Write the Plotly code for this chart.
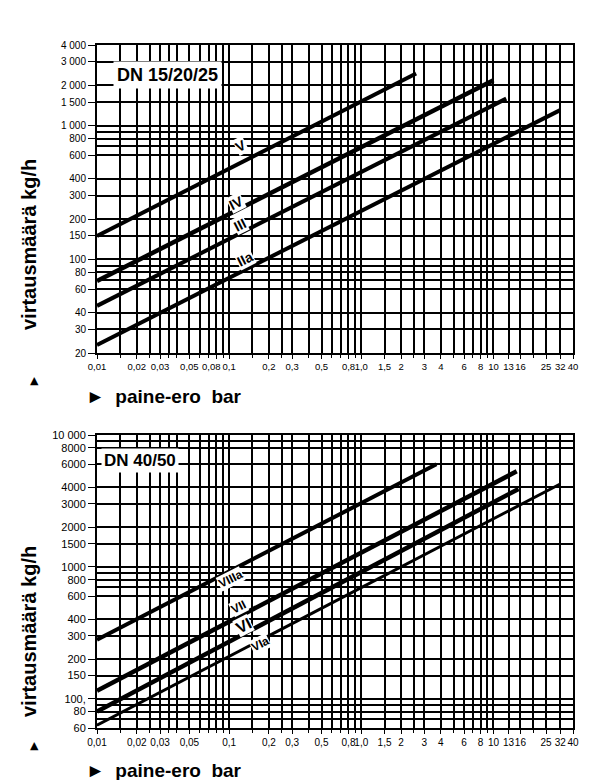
import math
import plotly.graph_objects as go
from plotly.subplots import make_subplots

# ---------------- data ----------------
# top chart DN 15/20/25
top_names = ["V", "IV", "III", "IIa"]
top_dp = [[0.01, 2.6], [0.01, 10.0], [0.01, 12.5], [0.01, 32.0]]
top_flow = [[150, 2450], [69, 2180], [45, 1590], [23, 1305]]
top_width = [4, 4.5, 4, 4]
top_label_x = [0.122, 0.112, 0.12, 0.132]
top_label_y = [700, 266, 182, 101]

# bottom chart DN 40/50
bot_names = ["VIIIa", "VII", "VI", "VIa"]
bot_dp = [[0.01, 3.7], [0.01, 15.0], [0.01, 15.5], [0.01, 32.0]]
bot_flow = [[280, 6000], [115, 5300], [80, 3900], [63, 4250]]
bot_width = [4, 4.5, 4.5, 3]
bot_label_x = [0.102, 0.118, 0.129, 0.172]
bot_label_y = [815, 500, 360, 262]
bot_label_size = [12, 12, 16, 12]

# ticks
top_xticks = [0.01, 0.02, 0.03, 0.05, 0.08, 0.1, 0.2, 0.3, 0.5, 0.8, 1.0, 1.5, 2, 3, 4, 6, 8, 10, 13, 16, 25, 32, 40]
top_xtext = ["0,01", "0,02", "0,03", "0,05", "0,08", "0,1", "0,2", "0,3", "0,5", "0,8", "1,0", "1,5", "2", "3", "4", "6", "8", "10", "13", "16", "25", "32", "40"]
bot_xticks = [0.01, 0.02, 0.03, 0.05, 0.1, 0.2, 0.3, 0.5, 0.8, 1.0, 1.5, 2, 3, 4, 6, 8, 10, 13, 16, 25, 32, 40]
bot_xtext = ["0,01", "0,02", "0,03", "0,05", "0,1", "0,2", "0,3", "0,5", "0,8", "1,0", "1,5", "2", "3", "4", "6", "8", "10", "13", "16", "25", "32", "40"]
top_xminor = [0.015, 0.025, 0.035, 0.04, 0.06, 0.07, 0.09, 0.15, 0.25, 0.4, 0.6, 0.7, 0.9, 2.5, 5, 7, 9, 20]
bot_xminor = [0.015, 0.025, 0.035, 0.04, 0.06, 0.07, 0.08, 0.09, 0.15, 0.25, 0.4, 0.6, 0.7, 0.9, 2.5, 5, 7, 9, 20]

top_yticks = [20, 30, 40, 60, 80, 100, 150, 200, 300, 400, 600, 800, 1000, 1500, 2000, 3000, 4000]
top_ytext = ["20", "30", "40", "60", "80", "100", "150", "200", "300", "400", "600", "800", "1 000", "1 500", "2 000", "3 000", "4 000"]
top_yminor = [70, 90, 700, 900]
bot_yticks = [60, 80, 100, 150, 200, 300, 400, 600, 800, 1000, 1500, 2000, 3000, 4000, 6000, 8000, 10000]
bot_ytext = ["60", "80", "100,", "150", "200", "300", "400", "600", "800", "1000", "1500", "2000", "3000", "4000", "6000", "8000", "10 000"]
bot_yminor = [70, 90, 700, 900, 9000]

# ---------------- figure ----------------
W, H = 600, 780
ML, MR, MT, MB = 97, 27, 45, 52
PW, PH = W - ML - MR, H - MT - MB


def px(x):
    return (x - ML) / PW


def py(y):
    return (H - MB - y) / PH


fig = make_subplots(rows=2, cols=1)

for name, xs, ys, w in zip(top_names, top_dp, top_flow, top_width):
    fig.add_trace(go.Scatter(x=xs, y=ys, mode="lines", name=name,
                             line=dict(color="black", width=w)), row=1, col=1)
for name, xs, ys, w in zip(bot_names, bot_dp, bot_flow, bot_width):
    fig.add_trace(go.Scatter(x=xs, y=ys, mode="lines", name=name,
                             line=dict(color="black", width=w)), row=2, col=1)

# the crowded 0,08 label is drawn as a separate annotation shifted slightly left
top_xtext_axis = ["" if v == 0.08 else t for v, t in zip(top_xticks, top_xtext)]

gridc = "#000000"
gw = 1.5
common_axis = dict(type="log", showline=True, linecolor="black", linewidth=2, mirror=True,
                   showgrid=True, gridcolor=gridc, gridwidth=gw, ticks="outside",
                   tickcolor="black", zeroline=False, tickangle=0)

xfont_top = dict(family="Liberation Sans", size=9.5, color="black")
fig.update_xaxes(**common_axis, range=[-2, math.log10(40)], tickvals=top_xticks, ticktext=top_xtext_axis,
                 ticklen=4, tickfont=xfont_top,
                 minor=dict(tickvals=top_xminor, showgrid=True, gridcolor=gridc, gridwidth=gw,
                            ticks="outside", ticklen=3, tickcolor="black"), row=1, col=1)
fig.update_xaxes(**common_axis, range=[-2, math.log10(40)], tickvals=bot_xticks, ticktext=bot_xtext,
                 ticklen=4, tickfont=dict(family="Liberation Sans", size=10, color="black"),
                 minor=dict(tickvals=bot_xminor, showgrid=True, gridcolor=gridc, gridwidth=gw,
                            ticks="outside", ticklen=3, tickcolor="black"), row=2, col=1)
fig.update_yaxes(**common_axis, range=[math.log10(20), math.log10(4000)], tickvals=top_yticks,
                 ticktext=top_ytext, ticklen=7, tickfont=dict(family="Liberation Sans", size=10, color="black"),
                 minor=dict(tickvals=top_yminor, showgrid=True, gridcolor=gridc, gridwidth=gw), row=1, col=1)
fig.update_yaxes(**common_axis, range=[math.log10(60), 4], tickvals=bot_yticks,
                 ticktext=bot_ytext, ticklen=7, tickfont=dict(family="Liberation Sans", size=11, color="black"),
                 minor=dict(tickvals=bot_yminor, showgrid=True, gridcolor=gridc, gridwidth=gw), row=2, col=1)

fig.update_layout(
    width=W, height=H, showlegend=False,
    margin=dict(l=ML, r=MR, t=MT, b=MB),
    paper_bgcolor="white", plot_bgcolor="white",
    xaxis=dict(domain=[0, 1], anchor="y"),
    yaxis=dict(domain=[py(353), 1.0]),
    xaxis2=dict(domain=[0, 1], anchor="y2"),
    yaxis2=dict(domain=[0, py(435)]),
)

ann = []
# separate 0,08 tick label
for v, t in zip(top_xticks, top_xtext):
    if v == 0.08:
        ann.append(dict(x=math.log10(v), y=py(366.5), xref="x", yref="paper", text=t, xshift=-5,
                        showarrow=False, xanchor="center", yanchor="middle", font=xfont_top))

# line labels
for name, lx, ly in zip(top_names, top_label_x, top_label_y):
    ann.append(dict(x=math.log10(lx), y=math.log10(ly), xref="x", yref="y", text="<b>%s</b>" % name,
                    showarrow=False, textangle=-27, xanchor="center", yanchor="middle",
                    bgcolor="white", borderpad=0,
                    font=dict(family="Liberation Sans", size=14, color="black")))
for name, lx, ly, fs in zip(bot_names, bot_label_x, bot_label_y, bot_label_size):
    ann.append(dict(x=math.log10(lx), y=math.log10(ly), xref="x2", yref="y2", text="<b>%s</b>" % name,
                    showarrow=False, textangle=-27, xanchor="center", yanchor="middle",
                    bgcolor="white", borderpad=0,
                    font=dict(family="Liberation Sans", size=fs, color="black")))

# DN boxes
ann.append(dict(x=px(113), y=py(75), xref="paper", yref="paper", xanchor="left", yanchor="middle",
                text="<b>DN 15/20/25</b>", showarrow=False, bgcolor="white", borderpad=3,
                font=dict(family="Liberation Sans", size=18, color="black")))
ann.append(dict(x=px(101), y=py(460), xref="paper", yref="paper", xanchor="left", yanchor="middle",
                text="<b>DN 40/50</b>", showarrow=False, bgcolor="white", borderpad=2,
                font=dict(family="Liberation Sans", size=17, color="black")))

# axis titles
for cy, ay, by in [(245, 380, 396), (632, 745, 770)]:
    ann.append(dict(x=px(29), y=py(cy), xref="paper", yref="paper", text="<b>virtausmäärä kg/h</b>",
                    textangle=-90, showarrow=False, xanchor="center", yanchor="middle",
                    font=dict(family="Liberation Sans", size=20, color="black")))
    ann.append(dict(x=px(35), y=py(ay), xref="paper", yref="paper", text="▲",
                    xanchor="center", yanchor="middle",
                    showarrow=False, font=dict(family="DejaVu Sans", size=11, color="black")))
    ann.append(dict(x=px(84), y=py(by), xref="paper", yref="paper", xanchor="left", yanchor="middle",
                    text="<b>►  paine-ero  bar</b>",
                    showarrow=False, font=dict(family="Liberation Sans", size=19, color="black")))

fig.update_layout(annotations=ann)
fig.write_html("out.html")
